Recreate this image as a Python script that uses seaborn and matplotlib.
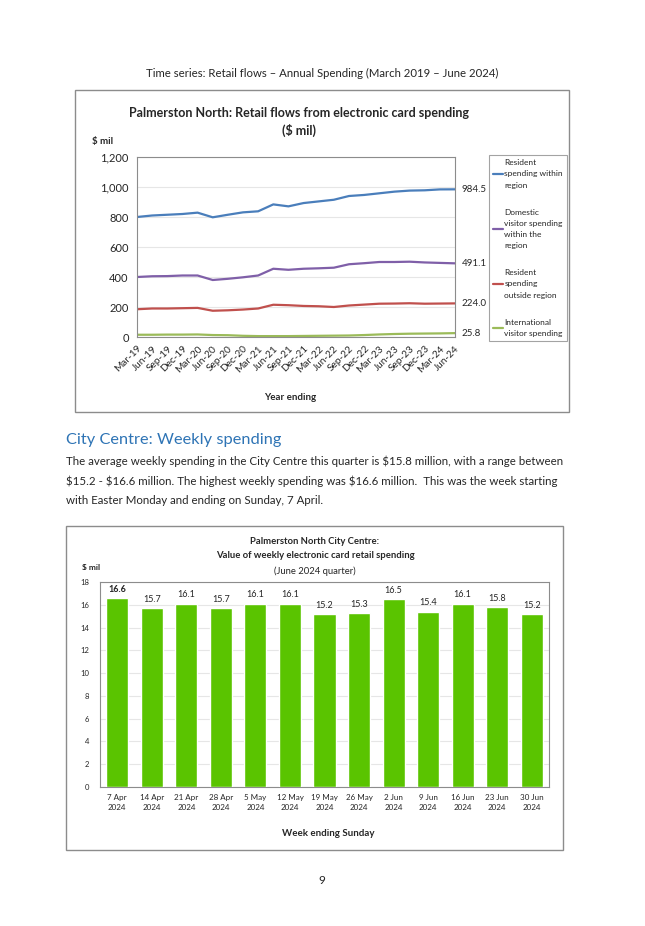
import matplotlib
matplotlib.use("Agg")
import matplotlib.pyplot as plt
from matplotlib.patches import Rectangle
from matplotlib.lines import Line2D
import seaborn as sns
import pandas as pd

sns.set_style("white")
plt.rcParams['font.family'] = ['Lato', 'DejaVu Sans']

# 折れ線グラフのデータ（四半期、年末値）
quarters = ['Mar-19', 'Jun-19', 'Sep-19', 'Dec-19', 'Mar-20', 'Jun-20', 'Sep-20', 'Dec-20',
            'Mar-21', 'Jun-21', 'Sep-21', 'Dec-21', 'Mar-22', 'Jun-22', 'Sep-22', 'Dec-22',
            'Mar-23', 'Jun-23', 'Sep-23', 'Dec-23', 'Mar-24', 'Jun-24']
resident_within = [800, 810, 815, 820, 829, 798, 815, 831, 838, 884, 871, 893,
                   904, 915, 940, 947, 958, 969, 976, 978, 984, 984.5]
domestic_visitor = [400, 405, 406, 410, 410, 380, 388, 398, 410, 455, 448, 455,
                    458, 462, 485, 492, 500, 500, 502, 497, 494, 491.1]
resident_outside = [185, 190, 190, 192, 194, 175, 178, 183, 190, 215, 212, 207,
                    205, 200, 210, 216, 222, 223, 225, 222, 223, 224.0]
international = [15, 15, 16, 16, 17, 13, 12, 8, 6, 6, 6, 7,
                 8, 9, 10, 13, 17, 20, 22, 23, 24, 25.8]

series_names = ['Resident\nspending within\nregion',
                'Domestic\nvisitor spending\nwithin the\nregion',
                'Resident\nspending\noutside region',
                'International\nvisitor spending']
series_colors = ['#4A7EBB', '#7F5FA8', '#C0504D', '#9BBB59']

# 棒グラフのデータ（週別）
weeks = ['7 Apr\n2024', '14 Apr\n2024', '21 Apr\n2024', '28 Apr\n2024', '5 May\n2024',
         '12 May\n2024', '19 May\n2024', '26 May\n2024', '2 Jun\n2024', '9 Jun\n2024',
         '16 Jun\n2024', '23 Jun\n2024', '30 Jun\n2024']
weekly_spend = [16.6, 15.7, 16.1, 15.7, 16.1, 16.1, 15.2, 15.3, 16.5, 15.4, 16.1, 15.8, 15.2]

W, H = 645, 926


def px_axes(fig, x0, y0, x1, y1):
    """ピクセル座標で軸を配置"""
    return fig.add_axes([x0 / W, 1 - y1 / H, (x1 - x0) / W, (y1 - y0) / H])


def px_box(fig, x0, y0, x1, y1):
    fig.patches.append(Rectangle((x0 / W, 1 - y1 / H), (x1 - x0) / W, (y1 - y0) / H,
                                 transform=fig.transFigure, fill=False,
                                 edgecolor='#8C8C8C', linewidth=1.0))


def ftext(fig, x, y, s, **kw):
    fig.text(x / W, 1 - y / H, s, **kw)


fig = plt.figure(figsize=(W / 100, H / 100), dpi=100)

ftext(fig, 322, 73, 'Time series: Retail flows \u2013 Annual Spending (March 2019 \u2013 June 2024)',
      ha='center', va='center', fontsize=8.2)

# ---- 折れ線グラフ ----
px_box(fig, 75, 90, 569, 412)
ftext(fig, 299, 113, 'Palmerston North: Retail flows from electronic card spending',
      ha='center', va='center', fontsize=9, fontweight='bold')
ftext(fig, 299, 130, '($ mil)', ha='center', va='center', fontsize=9, fontweight='bold')
ftext(fig, 92, 141, '$ mil', ha='left', va='center', fontsize=7, fontweight='bold')
ftext(fig, 290, 397, 'Year ending', ha='center', va='center', fontsize=7, fontweight='bold')

ax1 = px_axes(fig, 137, 157, 455, 337)
rows = []
for name, vals in zip(series_names, [resident_within, domestic_visitor, resident_outside, international]):
    for i, v in enumerate(vals):
        rows.append({'idx': i, 'value': v, 'series': name})
df_lines = pd.DataFrame(rows)
sns.lineplot(data=df_lines, x='idx', y='value', hue='series', palette=series_colors,
             hue_order=series_names, linewidth=1.6, legend=False, ax=ax1)
ax1.set_xlim(0, len(quarters) - 1)
ax1.set_ylim(0, 1200)
ax1.set_yticks(range(0, 1201, 200))
ax1.set_yticklabels([f'{v:,}' for v in range(0, 1201, 200)], fontsize=8)
ax1.set_xticks(range(len(quarters)))
ax1.set_xticklabels(quarters, rotation=45, ha='right', rotation_mode='anchor', fontsize=7.2)
ax1.set_xlabel('')
ax1.set_ylabel('')
ax1.grid(axis='y', color='#E6E6E6', linewidth=0.8)
ax1.tick_params(axis='x', length=2, color='#8C8C8C', pad=3)
ax1.tick_params(axis='y', length=0, pad=6)
for sp in ax1.spines.values():
    sp.set_color('#8C8C8C')
for vals in [resident_within, domestic_visitor, resident_outside, international]:
    ax1.annotate(f'{vals[-1]:.1f}', (len(quarters) - 1, vals[-1]), xytext=(5, 0),
                 textcoords='offset points', va='center', ha='left', fontsize=7,
                 annotation_clip=False)

handles = [Line2D([0], [0], color=c, linewidth=1.6) for c in series_colors]
leg = fig.legend(handles, series_names, loc='upper left',
                 bbox_to_anchor=(489 / W, 1 - 155 / H), fontsize=6, frameon=True,
                 fancybox=False, edgecolor='#8C8C8C', handlelength=1.2, handletextpad=0.15,
                 labelspacing=2.4, borderpad=0.5, borderaxespad=0)
leg.get_frame().set_linewidth(0.8)
for t in leg.get_texts():
    t.set_linespacing(1.7)

# ---- 本文 ----
ftext(fig, 66, 440, 'City Centre: Weekly spending', ha='left', va='center',
      fontsize=11.8, color='#2E74B5')
para = ['The average weekly spending in the City Centre this quarter is $15.8 million, with a range between',
        '$15.2 - $16.6 million. The highest weekly spending was $16.6 million.  This was the week starting',
        'with Easter Monday and ending on Sunday, 7 April.']
for k, line in enumerate(para):
    ftext(fig, 66, 461 + 20 * k, line, ha='left', va='center', fontsize=8.3)

# ---- 棒グラフ ----
px_box(fig, 66, 526, 563, 850)
ftext(fig, 315, 541, 'Palmerston North City Centre:', ha='center', va='center',
      fontsize=6.8, fontweight='bold')
ftext(fig, 315, 556, 'Value of weekly electronic card retail spending', ha='center', va='center',
      fontsize=6.8, fontweight='bold')
ftext(fig, 315, 571, '(June 2024 quarter)', ha='center', va='center', fontsize=6.8)
ftext(fig, 82, 567, '$ mil', ha='left', va='center', fontsize=6, fontweight='bold')
ftext(fig, 328, 833, 'Week ending Sunday', ha='center', va='center', fontsize=7, fontweight='bold')

ax2 = px_axes(fig, 100, 582, 549, 787)
df_bars = pd.DataFrame({'week': weeks, 'spend': weekly_spend})
sns.barplot(data=df_bars, x='week', y='spend', color='#5AC400', saturation=1,
            width=0.64, ax=ax2, zorder=3)
ax2.set_ylim(0, 18)
ax2.set_yticks(range(0, 19, 2))
ax2.tick_params(axis='y', labelsize=5.5, length=0, pad=8)
ax2.tick_params(axis='x', labelsize=5.8, length=0, pad=5)
for t in ax2.get_xticklabels():
    t.set_linespacing(1.5)
ax2.set_xlabel('')
ax2.set_ylabel('')
ax2.grid(axis='y', color='#E6E6E6', linewidth=0.8, zorder=0)
ax2.set_axisbelow(True)
for sp in ax2.spines.values():
    sp.set_color('#8C8C8C')
for i, v in enumerate(weekly_spend):
    ax2.annotate(f'{v:.1f}', (i, v), xytext=(0, 3), textcoords='offset points',
                 ha='center', va='bottom', fontsize=6.5,
                 fontweight='bold' if i == 0 else 'normal')

ftext(fig, 322, 880, '9', ha='center', va='center', fontsize=8.5)

fig.savefig('out.png', dpi=100)
